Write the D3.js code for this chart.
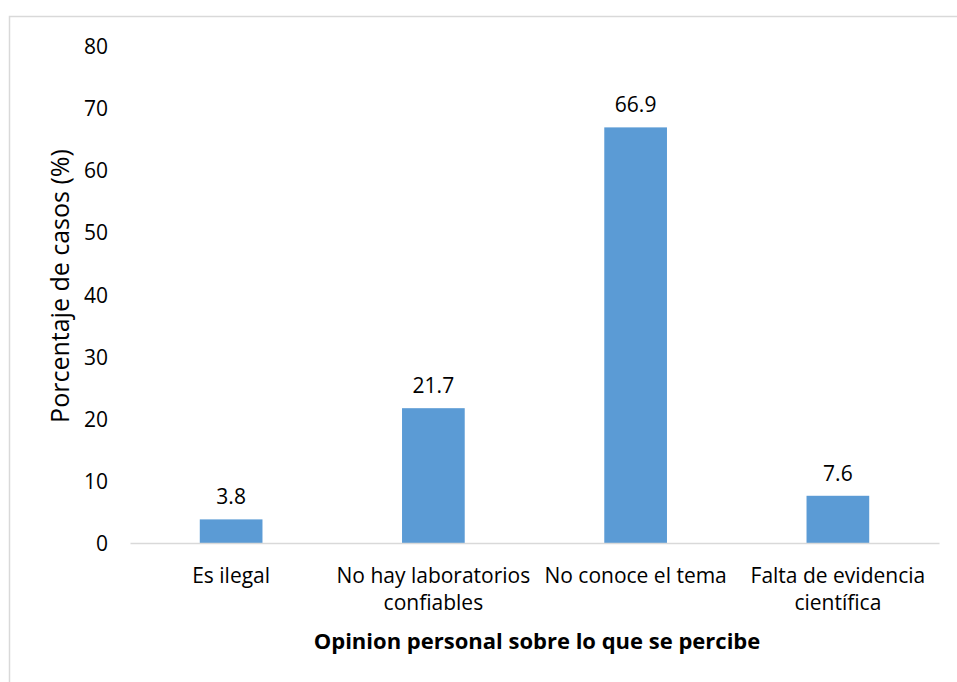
<!DOCTYPE html>
<html>
<head>
<meta charset="utf-8">
<script src="https://cdn.jsdelivr.net/npm/d3@7"></script>
<style>
  body { margin: 0; background: #fff; }
  svg { display: block; font-family: "Open Sans", Carlito, Calibri, sans-serif; }
</style>
</head>
<body>
<svg id="chart" width="957" height="682"></svg>
<script>
// chart data
const categories = [
	[ 'Es ilegal' ],
	[ 'No hay laboratorios', 'confiables' ],
	[ 'No conoce el tema' ],
	[ 'Falta de evidencia', 'científica' ],
];
const values = [ 3.8, 21.7, 66.9, 7.6 ];
const yTicks = [ 0, 10, 20, 30, 40, 50, 60, 70, 80 ];
const yTitle = 'Porcentaje de casos (%)';
const xTitle = 'Opinion personal sobre lo que se percibe';

const svg = d3.select( '#chart' );
const margin = { top: 46, left: 130, right: 18, bottom: 139 };
const width = 957 - margin.left - margin.right;
const height = 682 - margin.top - margin.bottom;
const labelSize = '21px';

// outer chart border
svg.append( 'rect' )
	.attr( 'x', 9.5 )
	.attr( 'y', 16.5 )
	.attr( 'width', 960 )
	.attr( 'height', 700 )
	.attr( 'fill', 'none' )
	.attr( 'stroke', '#d9d9d9' )
	.attr( 'stroke-width', 1.5 );

const x = d3.scaleBand()
	.domain( d3.range( values.length ) )
	.range( [ 0, width ] )
	.paddingInner( 0.69 )
	.paddingOuter( 0.345 );

const y = d3.scaleLinear()
	.domain( [ 0, 80 ] )
	.range( [ height, 0 ] );

const g = svg.append( 'g' )
	.attr( 'transform', `translate(${ margin.left },${ margin.top })` );

// y axis, labels only
const yAxis = g.append( 'g' )
	.call( d3.axisLeft( y ).tickValues( yTicks ).tickSize( 0 ).tickPadding( 22 ) )
	.attr( 'font-family', null )
	.attr( 'font-size', labelSize );
yAxis.select( '.domain' ).remove();
yAxis.selectAll( 'text' )
	.attr( 'fill', '#000' )
	.attr( 'dy', '0.36em' );

// bars
g.selectAll( 'rect.bar' )
	.data( values )
	.join( 'rect' )
	.attr( 'class', 'bar' )
	.attr( 'x', ( d, i ) => x( i ) )
	.attr( 'y', d => y( d ) )
	.attr( 'width', x.bandwidth() )
	.attr( 'height', d => y( 0 ) - y( d ) )
	.attr( 'fill', '#5b9bd5' );

// value labels
g.selectAll( 'text.val' )
	.data( values )
	.join( 'text' )
	.attr( 'class', 'val' )
	.attr( 'x', ( d, i ) => x( i ) + x.bandwidth() / 2 )
	.attr( 'y', d => y( d ) - 15 )
	.attr( 'text-anchor', 'middle' )
	.style( 'font-size', labelSize )
	.text( d => d.toFixed( 1 ) );

// x axis
const xAxis = g.append( 'g' )
	.attr( 'transform', `translate(0,${ height })` )
	.call( d3.axisBottom( x ).tickSize( 0 ).tickFormat( '' ) );
xAxis.select( '.domain' )
	.attr( 'stroke', '#d9d9d9' )
	.attr( 'stroke-width', 1.5 );

const xLabels = g.append( 'g' );
categories.forEach( ( lines, i ) => {
	const t = xLabels.append( 'text' )
		.attr( 'x', x( i ) + x.bandwidth() / 2 )
		.attr( 'y', height + 40 )
		.attr( 'text-anchor', 'middle' )
		.style( 'font-size', labelSize );
	lines.forEach( ( line, j ) => {
		t.append( 'tspan' )
			.attr( 'x', x( i ) + x.bandwidth() / 2 )
			.attr( 'dy', j === 0 ? 0 : 27 )
			.text( line );
	} );
} );

// axis titles
svg.append( 'text' )
	.attr( 'transform', 'translate(69,286) rotate(-90)' )
	.attr( 'text-anchor', 'middle' )
	.style( 'font-size', '25px' )
	.text( yTitle );

svg.append( 'text' )
	.attr( 'x', 537 )
	.attr( 'y', 649 )
	.attr( 'text-anchor', 'middle' )
	.style( 'font-size', '22px' )
	.style( 'font-weight', 'bold' )
	.text( xTitle );
</script>
</body>
</html>
